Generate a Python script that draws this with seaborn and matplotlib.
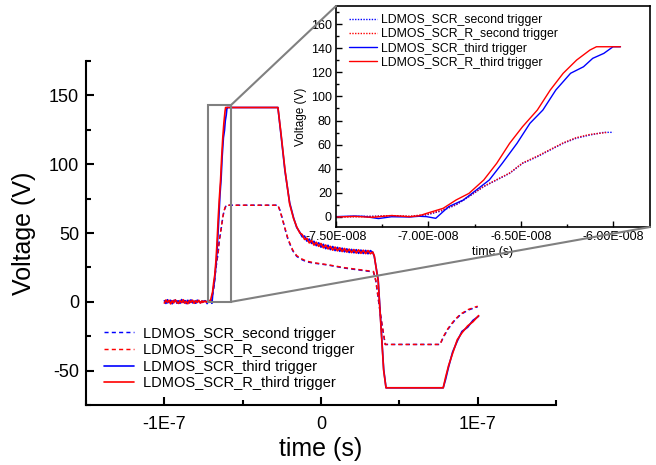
import numpy as np
import pandas as pd
import matplotlib
matplotlib.use("Agg")
import matplotlib.pyplot as plt
from matplotlib.ticker import MultipleLocator, FuncFormatter
from matplotlib.patches import Rectangle, ConnectionPatch
import seaborn as sns

# ---------------- data (time in ns, voltage in V) ----------------
scr_third_t = [-100, -99, -98, -97, -96, -95, -94, -93, -92, -91, -90, -89, -88, -87, -86,
               -85, -84, -83, -82, -81, -80, -79, -78, -77, -76,
               -75, -74, -73.5, -72.7, -72, -71, -70.5, -70.1, -69.6, -68.9, -68.1, -67.4,
               -66.7, -66.0, -65.2, -64.5, -63.8, -63.1, -62.3, -61.6, -61.1, -60.5, -60.0, -59.6,
               -27.5, -25.5, -23, -20, -17.5, -15.5, -13.5,
               -12, -10.5, -9, -7.5, -6, -4.5, -3, -1.5, 0, 1.5, 3, 4.5, 6, 7.5, 9, 10.5, 12,
               13.5, 15, 16.5, 18, 19.5, 21, 22.5, 24, 25.5, 27, 28.5, 30, 31.5, 33,
               34, 36.5, 40, 41.5, 78, 79.5, 81.4, 84, 87, 90, 93.6, 97, 100.6]
scr_third_v = [0.8, -1.2, 1.5, -0.6, 1.0, -1.4, 0.4, 1.3, -0.9, 0.7, -1.1, 1.6, -0.3, 0.9, -1.3,
               1.1, -0.5, 1.4, -0.8, 0.6, -1.0, 1.2, 0.2, -0.7, 0.5,
               0.3, 0.8, 0.5, -1.3, 0.2, 0.0, 0.6, 0.3, -1.1, 8.6, 14.1, 22.4,
               30.7, 44.5, 61.1, 77.7, 88.7, 105.3, 119.2, 124.6, 131.6, 135.7, 141.2, 141.2,
               141.2, 121.0, 95.0, 72.0, 61.0, 54.0, 50.5,
               47.2, 47.8, 44.1, 45.6, 42.4, 44.0, 40.8, 42.9, 39.7, 41.8, 38.6, 41.1, 37.9,
               40.2, 37.2, 39.6, 36.7, 39.0, 36.3, 38.5, 35.8, 38.1, 35.6, 37.9, 35.2, 37.6,
               35.1, 37.4, 34.9, 37.2, 36.0,
               33.0, 16.0, -49.0, -62.5, -62.5, -56.5, -47.5, -36.5, -28.5, -21.5, -18.5, -13.5, -10.5]

scr_r_third_t = [-100, -99, -98, -97, -96, -95, -94, -93, -92, -91, -90, -89, -88, -87, -86,
                 -85, -84, -83, -82, -81, -80, -79, -78, -77, -76,
                 -75, -74, -73, -72, -71, -70.5, -70.1, -69.2, -68.5, -67.8, -67.0, -66.3,
                 -65.6, -64.9, -64.1, -63.4, -62.7, -61.97, -61.25, -60.9, -59.6,
                 -27.5, -25.5, -23, -20, -17.5, -15.5, -13.5,
                 -12, -10.5, -9, -7.5, -6, -4.5, -3, -1.5, 0, 1.5, 3, 4.5, 6, 7.5, 9, 10.5, 12,
                 13.5, 15, 16.5, 18, 19.5, 21, 22.5, 24, 25.5, 27, 28.5, 30, 31.5, 33,
                 34, 36.5, 40, 41.5, 78, 79.5, 81.4, 84, 87, 90, 93.6, 97, 100.6]
scr_r_third_v = [-0.9, 1.3, -0.4, 1.1, -1.5, 0.6, -0.8, 1.4, -0.2, -1.2, 0.9, -0.6, 1.5, -1.0, 0.3,
                 -1.4, 1.0, -0.3, 1.2, -1.1, 0.8, -0.5, 1.1, -0.9, 0.6,
                 0.0, 0.5, -0.3, 1.2, 0.2, 1.0, 3.0, 7.2, 14.1, 19.6, 30.7, 44.5,
                 61.1, 74.9, 88.7, 105.3, 119.2, 130.2, 138.5, 141.2, 141.2,
                 141.2, 122.0, 96.0, 71.0, 60.5, 54.5, 50.0,
                 48.9, 45.3, 46.2, 42.8, 44.7, 41.2, 43.3, 40.3, 42.4, 39.2, 41.3, 38.4, 40.3,
                 37.5, 39.8, 37.0, 39.3, 36.5, 38.8, 36.1, 38.3, 35.7, 38.0, 35.4, 37.8, 35.2,
                 37.5, 35.0, 37.3, 34.9, 36.2,
                 33.5, 15.0, -50.0, -62.5, -62.5, -55.0, -46.5, -37.5, -27.5, -22.5, -17.5, -14.5, -10.0]

scr_second_t = [-100, -98, -96, -94, -92, -90, -88, -86, -84, -82, -80, -78, -76,
                -75, -73, -72, -71, -70.1, -69.3, -68.5, -67.8, -67.0, -66.3, -65.6, -64.9,
                -64.1, -63.4, -62.7, -62.0, -61.25, -60.5, -60.0,
                -27.5, -26, -24.4, -22.5, -21, -18, -15.5, -12, -9, -4, 4, 15, 25, 33.5,
                35, 38, 41, 76, 78, 81, 85, 89, 94, 100]
scr_second_v = [0.6, -0.8, 1.0, -0.5, 0.8, -1.0, 0.4, 0.9, -0.7, 0.5, -0.9, 0.7, -0.3,
                0.2, 0.6, 1.0, 0.4, 1.7, 5.0, 10.0, 16.9, 25.2, 30.7, 36.2, 44.5,
                50.0, 55.6, 61.1, 65.3, 68.0, 70.2, 70.2,
                70.2, 66.0, 59.4, 51.0, 45.0, 37.0, 33.0, 30.5, 29.0, 28.0, 26.8, 24.5, 23.0, 21.7,
                15.0, -10.0, -31.0, -31.0, -26.0, -20.0, -14.0, -9.4, -6.0, -3.6]

scr_r_second_t = [-100, -98, -96, -94, -92, -90, -88, -86, -84, -82, -80, -78, -76,
                  -75, -73, -72, -71, -70.1, -69.3, -68.5, -67.8, -67.0, -66.3, -65.6, -64.9,
                  -64.1, -63.4, -62.7, -62.0, -61.25, -60.3,
                  -27.5, -26, -24.4, -22.5, -21, -18, -15.5, -12, -9, -4, 4, 15, 25, 33.5,
                  35, 38, 41, 76, 78, 81, 85, 89, 94, 100]
scr_r_second_v = [-0.7, 0.9, -0.4, 1.1, -0.9, 0.5, -0.6, 1.0, -0.8, 0.7, -0.5, 0.9, -0.6,
                  0.0, 0.4, 1.2, 0.6, 2.2, 5.5, 10.5, 17.2, 25.5, 31.0, 36.5, 44.8,
                  50.5, 56.0, 61.5, 65.8, 68.5, 70.2,
                  70.2, 65.5, 59.0, 51.5, 45.5, 37.5, 33.5, 31.0, 29.5, 28.3, 27.0, 24.8, 23.3, 22.0,
                  15.5, -9.5, -31.0, -31.0, -25.5, -19.5, -13.5, -9.0, -5.6, -3.2]

labels = ["LDMOS_SCR_second trigger", "LDMOS_SCR_R_second trigger",
          "LDMOS_SCR_third trigger", "LDMOS_SCR_R_third trigger"]

# zoomed window drawn on the main axes
zoom_t = (-72.2, -57.4)
zoom_v = (0.0, 143.0)
inset_end = [-60.0, -60.3, -59.6, -59.6]

# ---------------- style ----------------
sns.set_theme(style="ticks")
plt.rcParams["font.family"] = ["Liberation Sans", "DejaVu Sans"]
plt.rcParams["axes.linewidth"] = 1.5
plt.rcParams["axes.unicode_minus"] = False
plt.rcParams["text.color"] = "black"
plt.rcParams["axes.labelcolor"] = "black"
plt.rcParams["xtick.color"] = "black"
plt.rcParams["ytick.color"] = "black"
plt.rcParams["axes.edgecolor"] = "black"

# (t, v, colour, main style, inset style, main width)
series = [
    (scr_second_t, scr_second_v, "#0000ff", (0, (2.8, 2.2)), (0, (1, 1)), 1.05),
    (scr_r_second_t, scr_r_second_v, "#ff0000", (0, (2.8, 2.2)), (0, (1, 1)), 1.05),
    (scr_third_t, scr_third_v, "#0000ff", "-", "-", 1.2),
    (scr_r_third_t, scr_r_third_v, "#ff0000", "-", "-", 1.2),
]

fig = plt.figure(figsize=(6.56, 4.65), dpi=100)
ax = fig.add_axes([86 / 656, 1 - 405 / 465, 470 / 656, 344 / 465])

for (t, v, c, ls_main, _, lw), lab in zip(series, labels):
    df = pd.DataFrame({"t": np.array(t) * 1e-9, "v": v})
    sns.lineplot(data=df, x="t", y="v", ax=ax, color=c, linestyle=ls_main,
                 linewidth=lw, sort=False, estimator=None, label=lab)

ax.set_xlim(-1.5e-7, 1.5e-7)
ax.set_ylim(-75, 175)
ax.xaxis.set_major_locator(MultipleLocator(1e-7))
ax.xaxis.set_minor_locator(MultipleLocator(5e-8))
ax.yaxis.set_major_locator(MultipleLocator(50))
ax.yaxis.set_minor_locator(MultipleLocator(25))


def sci_short(x, pos):
    if abs(x) < 1e-12:
        return "0"
    m, e = f"{x:.0E}".split("E")
    return f"{m}E{int(e)}"


ax.xaxis.set_major_formatter(FuncFormatter(sci_short))
ax.tick_params(which="major", direction="in", length=6, width=1.5, labelsize=13,
               colors="black")
ax.tick_params(axis="x", which="major", pad=8)
ax.tick_params(axis="y", which="major", pad=5)
ax.tick_params(which="minor", direction="in", length=3.5, width=1.5, colors="black")
sns.despine(ax=ax)
ax.set_xlabel("time (s)", fontsize=18, labelpad=3, color="black")
ax.set_ylabel("Voltage (V)", fontsize=18, labelpad=9, color="black")

leg = ax.legend(loc="upper left", bbox_to_anchor=(0.038, 0.228), frameon=False,
                fontsize=10.5, borderaxespad=0, borderpad=0, handlelength=2.1,
                handletextpad=0.55, labelspacing=0.18)
for txt in leg.get_texts():
    txt.set_color("black")

# zoom box on the main plot
ax.add_patch(Rectangle((zoom_t[0] * 1e-9, zoom_v[0]), (zoom_t[1] - zoom_t[0]) * 1e-9,
                       zoom_v[1] - zoom_v[0], fill=False, edgecolor="#808080",
                       linewidth=1.5, zorder=5))

# ---------------- inset ----------------
axin = fig.add_axes([336 / 656, 1 - 227 / 465, 314 / 656, 221 / 465])
for (t, v, c, _, ls_in, _lw), lab, tend in zip(series, labels, inset_end):
    t = np.array(t)
    v = np.array(v)
    keep = (t >= -75) & (t <= tend)
    df = pd.DataFrame({"t": t[keep] * 1e-9, "v": v[keep]})
    sns.lineplot(data=df, x="t", y="v", ax=axin, color=c, linestyle=ls_in,
                 linewidth=1.0, sort=False, estimator=None, label=lab)

axin.set_xlim(-7.5e-8, -5.8e-8)
axin.set_ylim(-8.3, 175)
axin.xaxis.set_major_locator(MultipleLocator(5e-9))
axin.xaxis.set_minor_locator(MultipleLocator(2.5e-9))
axin.yaxis.set_major_locator(MultipleLocator(20))
axin.yaxis.set_minor_locator(MultipleLocator(10))


def sci_origin(x, pos):
    m, e = f"{x:.2E}".split("E")
    exp = int(e)
    sign = "-" if exp < 0 else "+"
    return f"{m}E{sign}{abs(exp):03d}"


axin.xaxis.set_major_formatter(FuncFormatter(sci_origin))
axin.tick_params(which="major", direction="in", length=4, width=1.0, labelsize=9,
                 colors="black", pad=3)
axin.tick_params(which="minor", direction="in", length=2, width=1.0, colors="black")
for s in axin.spines.values():
    s.set_linewidth(1.2)
    s.set_color("black")
axin.set_xlabel("time (s)", fontsize=8.8, labelpad=2, color="black")
axin.set_ylabel("Voltage (V)", fontsize=8.5, labelpad=3, color="black")
leg2 = axin.legend(loc="upper left", bbox_to_anchor=(0.041, 0.963), frameon=False,
                   fontsize=8.8, borderaxespad=0, borderpad=0, handlelength=2.3,
                   handletextpad=0.35, labelspacing=0.18)
for txt in leg2.get_texts():
    txt.set_color("black")

# connector lines from the zoom box to the inset
for (xa, ya), (xb, yb) in [((zoom_t[1], zoom_v[1]), (0, 1)), ((zoom_t[1], zoom_v[0]), (1, 0))]:
    con = ConnectionPatch(xyA=(xa * 1e-9, ya), coordsA=ax.transData,
                          xyB=(xb, yb), coordsB=axin.transAxes,
                          color="#808080", linewidth=1.5, zorder=10)
    fig.add_artist(con)

fig.savefig("out.png", dpi=100)
